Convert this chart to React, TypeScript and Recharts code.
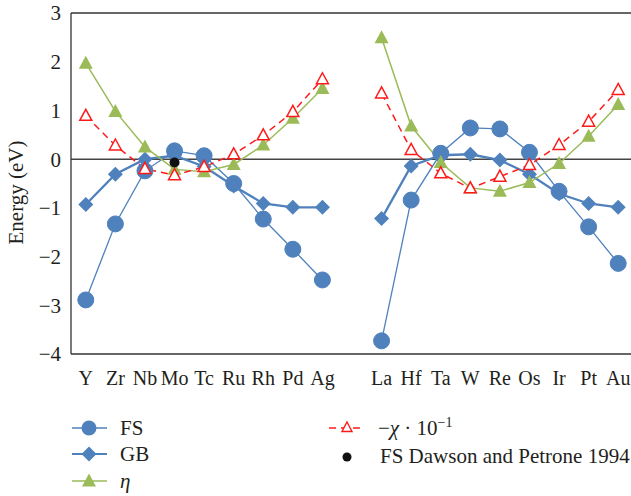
import React from 'react';
import { LineChart, Line, XAxis, YAxis, ReferenceLine, Legend } from 'recharts';

const categories = ['Y', 'Zr', 'Nb', 'Mo', 'Tc', 'Ru', 'Rh', 'Pd', 'Ag', '', 'La', 'Hf', 'Ta', 'W', 'Re', 'Os', 'Ir', 'Pt', 'Au'];
const fsValues = [-2.89, -1.33, -0.24, 0.17, 0.07, -0.5, -1.23, -1.85, -2.48, null, -3.73, -0.84, 0.12, 0.64, 0.62, 0.14, -0.66, -1.39, -2.14];
const gbValues = [-0.93, -0.31, 0.0, 0.07, -0.15, -0.55, -0.91, -0.99, -0.99, null, -1.22, -0.14, 0.08, 0.1, -0.02, -0.31, -0.71, -0.91, -0.99];
const etaValues = [1.97, 0.98, 0.25, -0.21, -0.26, -0.11, 0.29, 0.84, 1.45, null, 2.49, 0.68, -0.07, -0.59, -0.66, -0.48, -0.09, 0.47, 1.12];
const chiValues = [0.89, 0.28, -0.2, -0.33, -0.16, 0.1, 0.49, 0.97, 1.64, null, 1.35, 0.19, -0.29, -0.6, -0.36, -0.12, 0.29, 0.77, 1.42];
const dawsonValues = [null, null, null, -0.07, null, null, null, null, null, null, null, null, null, null, null, null, null, null, null];
const yTicks = [-4, -3, -2, -1, 0, 1, 2, 3];
const boundaryTicks = Array.from({ length: categories.length + 1 }, (_, i) => i);

const data = categories.map((c, i) => ({
  name: c,
  pos: i + 0.5,
  fs: fsValues[i],
  gb: gbValues[i],
  eta: etaValues[i],
  chi: chiValues[i],
  dawson: dawsonValues[i],
}));

const BLUE = '#4f81bd';
const GREEN = '#9bbb59';
const RED = '#ff1a1a';
const TEXT = '#231f20';
const FONT = '"Liberation Serif", "Times New Roman", serif';

const ok = (p: any) => p && p.cy != null && p.value != null && !Number.isNaN(p.cy);

const CircleDot = (p: any) =>
  ok(p) ? <circle key={p.key} cx={p.cx} cy={p.cy} r={8} fill={BLUE} stroke={BLUE} /> : <g key={p.key} />;
const DiamondDot = (p: any) =>
  ok(p) ? (
    <path key={p.key} d={`M${p.cx},${p.cy - 7.5}L${p.cx + 7.5},${p.cy}L${p.cx},${p.cy + 7.5}L${p.cx - 7.5},${p.cy}Z`} fill={BLUE} />
  ) : (
    <g key={p.key} />
  );
const TriDot = (p: any) =>
  ok(p) ? (
    <path key={p.key} d={`M${p.cx},${p.cy - 7.5}L${p.cx + 7},${p.cy + 5.5}L${p.cx - 7},${p.cy + 5.5}Z`} fill={GREEN} />
  ) : (
    <g key={p.key} />
  );
const HollowTriDot = (p: any) =>
  ok(p) ? (
    <path key={p.key} d={`M${p.cx},${p.cy - 6.5}L${p.cx + 6},${p.cy + 4.5}L${p.cx - 6},${p.cy + 4.5}Z`} fill="#fff" stroke={RED} strokeWidth={1.5} />
  ) : (
    <g key={p.key} />
  );
const BlackDot = (p: any) =>
  ok(p) ? <circle key={p.key} cx={p.cx} cy={p.cy} r={5} fill="#111" /> : <g key={p.key} />;

const LegendContent = () => (
  <svg width={631} height={91} style={{ display: 'block' }}>
    <g fontFamily={FONT} fontSize={21} fill={TEXT}>
      <line x1={72} x2={107} y1={23} y2={23} stroke={BLUE} strokeWidth={1.3} />
      <circle cx={89} cy={23} r={7.5} fill={BLUE} />
      <text x={120} y={30}>FS</text>
      <line x1={72} x2={107} y1={49} y2={49} stroke={BLUE} strokeWidth={2.2} />
      <path d="M89,41.5L96.5,49L89,56.5L81.5,49Z" fill={BLUE} />
      <text x={120} y={56}>GB</text>
      <line x1={72} x2={107} y1={76} y2={76} stroke={GREEN} strokeWidth={1.5} />
      <path d="M89,68.5L96,81.5L82,81.5Z" fill={GREEN} />
      <text x={120} y={83} fontStyle="italic">η</text>
      <line x1={329} x2={365} y1={23} y2={23} stroke={RED} strokeWidth={1.5} strokeDasharray="7 5" />
      <path d="M347,17L352,26.5L342,26.5Z" fill="#fff" stroke={RED} strokeWidth={1.4} />
      <text x={378} y={30}>
        −<tspan fontStyle="italic">χ</tspan> · 10
        <tspan fontSize={14} dy={-8}>−1</tspan>
      </text>
      <circle cx={347} cy={52} r={4.5} fill="#111" />
      <text x={380} y={58}>FS Dawson and Petrone 1994</text>
    </g>
  </svg>
);

const YLabel = (props: any) => {
  const vb = props.viewBox || { x: 0, y: 13, width: 71, height: 341 };
  const cx = 16;
  const cy = vb.y + vb.height / 2 + 9;
  return (
    <text x={cx} y={cy} transform={`rotate(-90, ${cx}, ${cy})`} textAnchor="middle" dominantBaseline="central" fontFamily={FONT} fontSize={21} fill={TEXT}>
      Energy (eV)
    </text>
  );
};

const fmt = (v: number) => (v < 0 ? `−${Math.abs(v)}` : String(v));

export default function App() {
  return (
    <div style={{ position: 'absolute', left: 0, top: 0, width: 631, height: 496, overflow: 'hidden', background: '#fff' }}>
      <LineChart width={633} height={496} data={data} margin={{ top: 13, right: 0, left: 0, bottom: 112 }}>
        <XAxis
          xAxisId="z"
          dataKey="name"
          type="category"
          scale="band"
          interval={0}
          height={29}
          axisLine={false}
          tickLine={false}
          tickSize={0}
          tickMargin={16}
          tick={{ fontFamily: FONT, fontSize: 20, fill: TEXT }}
        />
        <XAxis
          xAxisId="a"
          dataKey="pos"
          type="number"
          domain={[0, categories.length]}
          ticks={boundaryTicks}
          interval={0}
          tick={false}
          tickSize={-4}
          height={1}
          allowDataOverflow
          axisLine={{ stroke: '#333', strokeWidth: 1.3 }}
          tickLine={{ stroke: '#333', strokeWidth: 1 }}
        />
        <YAxis
          domain={[-4, 3]}
          ticks={yTicks}
          width={71}
          interval={0}
          tickFormatter={fmt}
          tickLine={false}
          tickMargin={4}
          axisLine={{ stroke: '#333', strokeWidth: 1.3 }}
          tick={{ fontFamily: FONT, fontSize: 21, fill: TEXT }}
          label={<YLabel />}
        />
        <ReferenceLine y={0} xAxisId="z" stroke="#444" strokeWidth={1.5} />
        <ReferenceLine y={3} xAxisId="z" stroke="#333" strokeWidth={1.3} />
        <Legend
          verticalAlign="middle"
          align="center"
          layout="horizontal"
          wrapperStyle={{ top: 405, left: 0, width: 631, height: 91 }}
          content={<LegendContent />}
        />
        <Line xAxisId="a" dataKey="fs" stroke="none" dot={false} activeDot={false} legendType="none" isAnimationActive={false} />
        <Line xAxisId="z" dataKey="fs" stroke={BLUE} strokeWidth={1.3} dot={CircleDot} activeDot={false} isAnimationActive={false} connectNulls={false} />
        <Line xAxisId="z" dataKey="gb" stroke={BLUE} strokeWidth={2.3} dot={DiamondDot} activeDot={false} isAnimationActive={false} connectNulls={false} />
        <Line xAxisId="z" dataKey="eta" stroke={GREEN} strokeWidth={1.5} dot={TriDot} activeDot={false} isAnimationActive={false} connectNulls={false} />
        <Line xAxisId="z" dataKey="chi" stroke={RED} strokeWidth={1.5} strokeDasharray="7 5" dot={HollowTriDot} activeDot={false} isAnimationActive={false} connectNulls={false} />
        <Line xAxisId="z" dataKey="dawson" stroke="none" dot={BlackDot} activeDot={false} isAnimationActive={false} />
      </LineChart>
    </div>
  );
}
